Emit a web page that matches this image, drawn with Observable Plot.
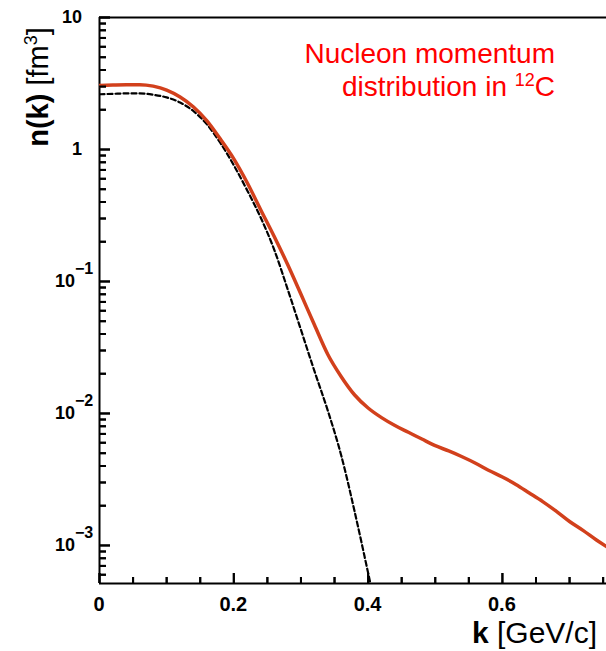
<!DOCTYPE html>
<html><head><meta charset="utf-8">
<script src="https://cdn.jsdelivr.net/npm/d3@7"></script>
<script src="https://cdn.jsdelivr.net/npm/@observablehq/plot@0.6"></script>
<style>html,body{margin:0;padding:0;background:#fff;overflow:hidden;} svg{display:block;}</style>
</head><body><div id="chart"></div>
<script>
// Full distribution (red solid)
const kRed = [0, 0.02, 0.04, 0.06, 0.08, 0.10, 0.12, 0.14, 0.16, 0.18, 0.20, 0.22, 0.24, 0.26, 0.28, 0.30, 0.32, 0.34, 0.36, 0.38, 0.40, 0.42, 0.44, 0.46, 0.48, 0.50, 0.52, 0.54, 0.56, 0.58, 0.60, 0.62, 0.64, 0.66, 0.68, 0.70, 0.72, 0.74, 0.755];
const nRed = [3.05, 3.08, 3.1, 3.1, 3.02, 2.82, 2.5, 2.1, 1.65, 1.2, 0.85, 0.56, 0.35, 0.22, 0.135, 0.08, 0.047, 0.028, 0.019, 0.0138, 0.0110, 0.0093, 0.0081, 0.0072, 0.0064, 0.0057, 0.0052, 0.0047, 0.0042, 0.0037, 0.0033, 0.0029, 0.0025, 0.00215, 0.00182, 0.00152, 0.0013, 0.0011, 0.00098];
// Mean-field part (black dashed)
const kDash = [0, 0.02, 0.04, 0.06, 0.08, 0.10, 0.12, 0.14, 0.16, 0.18, 0.20, 0.22, 0.24, 0.26, 0.28, 0.30, 0.32, 0.34, 0.36, 0.38, 0.40, 0.404];
const nDash = [2.62, 2.64, 2.66, 2.66, 2.6, 2.48, 2.27, 1.95, 1.55, 1.12, 0.76, 0.49, 0.305, 0.175, 0.088, 0.043, 0.021, 0.0105, 0.0048, 0.0018, 0.00062, 0.0005];

const xMajor = [0, 0.2, 0.4, 0.6];
const xMajorLabels = ["0", "0.2", "0.4", "0.6"];
const xMinor = [0.05, 0.1, 0.15, 0.25, 0.3, 0.35, 0.45, 0.5, 0.55, 0.65, 0.7, 0.75];
const yMajor = [10, 1, 0.1, 0.01, 0.001];
const yBase = ["10", "1", "10", "10", "10"];
const yExp = ["", "", "\u22121", "\u22122", "\u22123"];
const yMinor = [0.0006, 0.0007, 0.0008, 0.0009,
  0.002, 0.003, 0.004, 0.005, 0.006, 0.007, 0.008, 0.009,
  0.02, 0.03, 0.04, 0.05, 0.06, 0.07, 0.08, 0.09,
  0.2, 0.3, 0.4, 0.5, 0.6, 0.7, 0.8, 0.9,
  2, 3, 4, 5, 6, 7, 8, 9];

const red = kRed.map((k, i) => ({k, n: nRed[i]}));
const dash = kDash.map((k, i) => ({k, n: nDash[i]}));

const font = "'Liberation Sans', Arial, Helvetica, sans-serif";
const W = 606, H = 651, mL = 99, mR = 0, mT = 17, mB = 68;

const svg = Plot.plot({
  width: W, height: H,
  marginLeft: mL, marginRight: mR, marginTop: mT, marginBottom: mB,
  style: {fontFamily: font, background: "white", color: "black"},
  x: {domain: [0, 0.755]},
  y: {type: "log", domain: [5.15e-4, 10]},
  marks: [
    // inward ticks: outward ticks shifted into the frame by their own length
    Plot.axisX(xMajor, {anchor: "bottom", tickSize: 10, dy: -10, text: null, label: null, strokeWidth: 2, stroke: "black"}),
    Plot.axisX(xMinor, {anchor: "bottom", tickSize: 6, dy: -6, text: null, label: null, strokeWidth: 2, stroke: "black"}),
    Plot.axisY(yMajor, {anchor: "left", tickSize: 11, dx: 11, text: null, label: null, strokeWidth: 2, stroke: "black"}),
    Plot.axisY(yMinor, {anchor: "left", tickSize: 7, dx: 7, text: null, label: null, strokeWidth: 2, stroke: "black"}),
    Plot.ruleX([0], {stroke: "black", strokeWidth: 2}),
    Plot.ruleY([5.15e-4], {stroke: "black", strokeWidth: 2}),
    Plot.ruleY([10], {stroke: "black", strokeWidth: 2}),
    Plot.line(dash, {x: "k", y: "n", stroke: "black", strokeWidth: 2.2, strokeDasharray: "5,3", curve: "monotone-x", clip: true}),
    Plot.line(red, {x: "k", y: "n", stroke: "#d2401c", strokeWidth: 3.5, curve: "monotone-x", clip: true})
  ]
});
document.getElementById("chart").appendChild(svg);

const sx = svg.scale("x"), sy = svg.scale("y");
const s = d3.select(svg);
const yb = H - mB;
// tick lines, positioned with Plot's own scales
const tk = s.append("g").attr("stroke", "black").attr("stroke-width", 2);
xMajor.forEach(v => tk.append("line").attr("x1", sx.apply(v) + 0.5).attr("x2", sx.apply(v) + 0.5).attr("y1", yb - 10).attr("y2", yb));
xMinor.forEach(v => tk.append("line").attr("x1", sx.apply(v) + 0.5).attr("x2", sx.apply(v) + 0.5).attr("y1", yb - 6).attr("y2", yb));
yMajor.forEach(v => tk.append("line").attr("x1", mL).attr("x2", mL + 11).attr("y1", sy.apply(v) + 0.5).attr("y2", sy.apply(v) + 0.5));
yMinor.forEach(v => tk.append("line").attr("x1", mL).attr("x2", mL + 7).attr("y1", sy.apply(v) + 0.5).attr("y2", sy.apply(v) + 0.5));

const g = s.append("g").attr("font-family", font).attr("fill", "black").attr("font-weight", "bold");
// y tick labels
yMajor.forEach((v, i) => {
  const py = sy.apply(v);
  if (yExp[i] === "") {
    g.append("text").attr("x", mL - 17).attr("y", py).attr("dy", "0.35em")
      .attr("text-anchor", "end").attr("font-size", 18).text(yBase[i]);
  } else {
    g.append("text").attr("x", mL - 24).attr("y", py).attr("dy", "0.35em")
      .attr("text-anchor", "end").attr("font-size", 18).text(yBase[i]);
    g.append("text").attr("x", mL - 24).attr("y", py - 13).attr("dy", "0.35em")
      .attr("text-anchor", "start").attr("font-size", 16).text(yExp[i]);
  }
});
// x tick labels
xMajor.forEach((v, i) => {
  g.append("text").attr("x", sx.apply(v)).attr("y", yb + 21).attr("dy", "0.35em")
    .attr("text-anchor", "middle").attr("font-size", 20).text(xMajorLabels[i]);
});
// y axis label
const yl = s.append("text")
  .attr("transform", "translate(48,87) rotate(-90)")
  .attr("text-anchor", "middle")
  .attr("font-size", 29).attr("fill", "black").attr("font-family", font);
yl.append("tspan").attr("font-weight", "bold").text("n(k)");
yl.append("tspan").text(" [fm");
yl.append("tspan").attr("font-size", 18).attr("dy", -11).text("3");
yl.append("tspan").attr("dy", 11).text("]");
// x axis label
const xl = s.append("text")
  .attr("x", 597).attr("y", 643).attr("text-anchor", "end")
  .attr("font-size", 30).attr("fill", "black").attr("font-family", font);
xl.append("tspan").attr("font-weight", "bold").text("k");
xl.append("tspan").text(" [GeV/c]");
// annotation
const l1 = s.append("text").attr("font-size", 28).attr("fill", "#ff0000")
  .attr("text-anchor", "end").attr("font-family", font).attr("x", 555).attr("y", 63);
l1.text("Nucleon momentum");
const l2 = s.append("text").attr("font-size", 28).attr("fill", "#ff0000")
  .attr("text-anchor", "end").attr("font-family", font).attr("x", 555).attr("y", 96);
l2.append("tspan").text("distribution in ");
l2.append("tspan").attr("font-size", 18).attr("dy", -10).text("12");
l2.append("tspan").attr("dy", 10).text("C");
</script>
</body></html>
